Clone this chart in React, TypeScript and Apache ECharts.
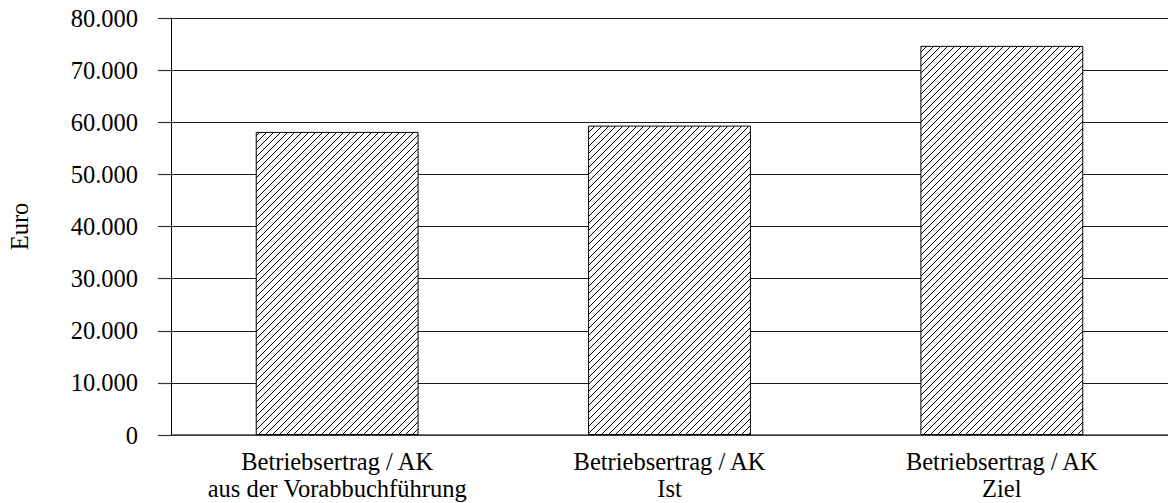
import React, { useEffect, useRef } from "react";
import * as echarts from "echarts";

const categories = [
  "Betriebsertrag / AK\naus der Vorabbuchführung",
  "Betriebsertrag / AK\nIst",
  "Betriebsertrag / AK\nZiel",
];
const values = [58150, 59350, 74650];
const yTicks = { min: 0, max: 80000, interval: 10000 };
const yAxisName = "Euro";

function makeHatch() {
  const s = 7;
  const c = document.createElement("canvas");
  c.width = s;
  c.height = s;
  const ctx = c.getContext("2d")!;
  ctx.fillStyle = "#fff";
  ctx.fillRect(0, 0, s, s);
  ctx.strokeStyle = "#000";
  ctx.lineWidth = 1;
  ctx.beginPath();
  ctx.moveTo(-1, s + 1);
  ctx.lineTo(s + 1, -1);
  ctx.moveTo(-1, 1);
  ctx.lineTo(1, -1);
  ctx.moveTo(s - 1, s + 1);
  ctx.lineTo(s + 1, s - 1);
  ctx.stroke();
  return c;
}

function fmt(v: number) {
  return v.toLocaleString("de-DE");
}

export default function App() {
  const ref = useRef<HTMLDivElement>(null);
  useEffect(() => {
    const chart = echarts.init(ref.current!, null, { renderer: "svg" });
    const hatch = makeHatch();
    const font = "'Liberation Serif', 'Times New Roman', serif";
    chart.setOption({
      animation: false,
      backgroundColor: "#fff",
      grid: {
        left: 171,
        right: 0,
        top: 18,
        bottom: 68,
        containLabel: false,
        outerBoundsMode: "none",
      },
      xAxis: {
        type: "category",
        data: categories,
        axisLine: { show: true, lineStyle: { color: "#444", width: 1.5 } },
        axisTick: { show: false },
        axisLabel: {
          interval: 0,
          hideOverlap: false,
          color: "#000",
          fontFamily: font,
          fontSize: 24.5,
          lineHeight: 27,
          margin: 13,
          align: "center",
        },
      },
      yAxis: {
        type: "value",
        min: yTicks.min,
        max: yTicks.max,
        interval: yTicks.interval,
        name: yAxisName,
        nameLocation: "middle",
        nameRotate: 90,
        nameGap: 139,
        nameTextStyle: { color: "#000", fontFamily: font, fontSize: 24.5 },
        axisLine: { show: true, lineStyle: { color: "#000", width: 1 } },
        axisTick: { show: true, length: 13, lineStyle: { color: "#333", width: 1.2 } },
        splitLine: { show: true, lineStyle: { color: "#1a1a1a", width: 1.2 } },
        axisLabel: {
          color: "#000",
          fontFamily: font,
          fontSize: 24.5,
          margin: 33,
          padding: [5, 0, 0, 0],
          formatter: (v: number) => fmt(v),
        },
      },
      series: [
        {
          type: "bar",
          data: values,
          barWidth: "49%",
          itemStyle: {
            color: { image: hatch, repeat: "repeat" },
            borderColor: "#000",
            borderWidth: 1,
          },
        },
      ],
    });
    return () => chart.dispose();
  }, []);
  return (
    <div
      ref={ref}
      style={{ position: "fixed", left: 0, top: 0, width: 1168, height: 503 }}
    />
  );
}
